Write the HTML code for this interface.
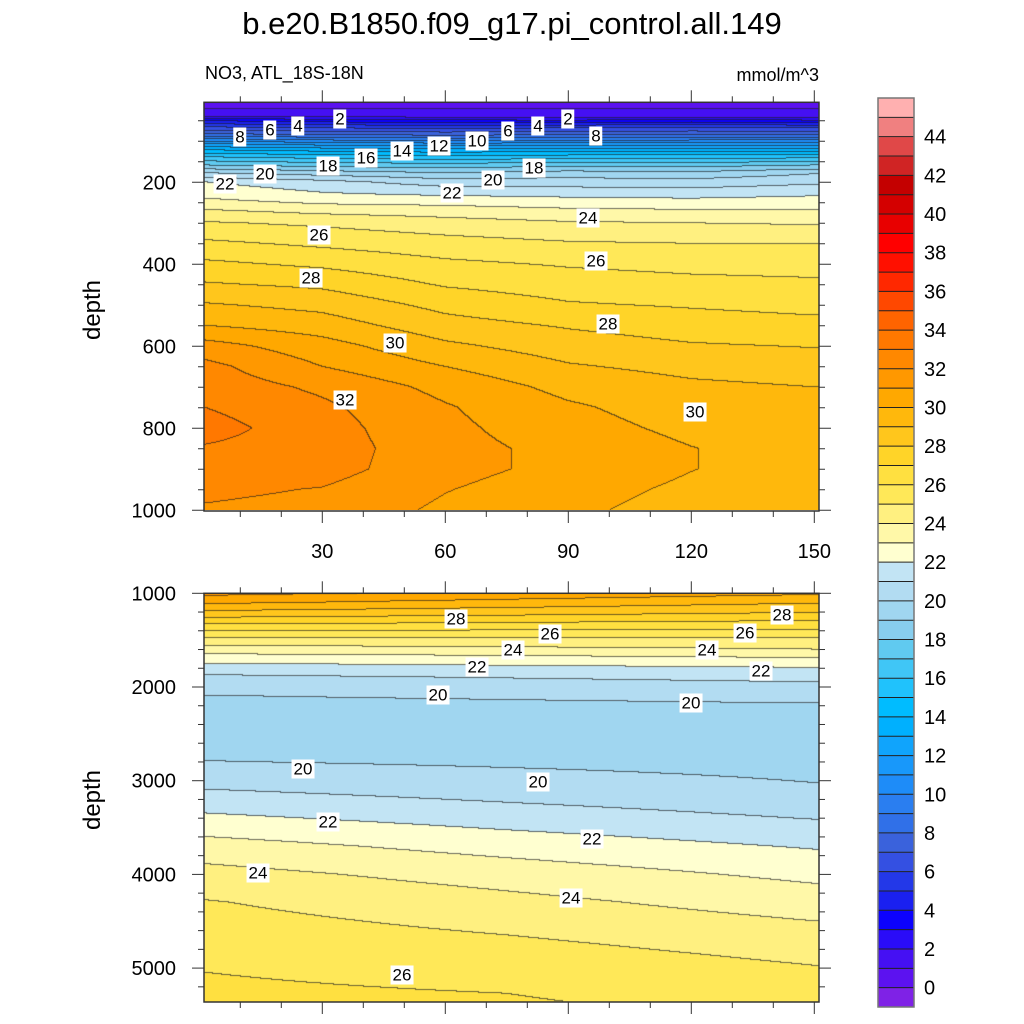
<!DOCTYPE html>
<html><head><meta charset="utf-8">
<style>
html,body{margin:0;padding:0;background:#fff;}
body{width:1024px;height:1024px;position:relative;overflow:hidden;font-family:"Liberation Sans",Arial,sans-serif;color:#000;}
.t{position:absolute;white-space:nowrap;}
canvas{position:absolute;}
.cl{position:absolute;background:#fff;font-size:17px;line-height:17px;padding:1px 2px;transform:translate(-50%,-50%);}
</style></head>
<body>
<div class="t" style="left:0;width:1024px;text-align:center;top:6px;font-size:31px;">b.e20.B1850.f09_g17.pi_control.all.149</div>
<div class="t" style="left:205px;top:63px;font-size:18px;">NO3, ATL_18S-18N</div>
<div class="t" style="right:205px;top:65px;font-size:18px;">mmol/m^3</div>
<div class="t" style="left:93px;top:310px;font-size:24px;transform:translate(-50%,-50%) rotate(-90deg);">depth</div>
<div class="t" style="left:93px;top:800px;font-size:24px;transform:translate(-50%,-50%) rotate(-90deg);">depth</div>
<canvas id="cTop" width="615" height="408" style="left:204px;top:102px;"></canvas>
<canvas id="cBot" width="615" height="409" style="left:204px;top:593px;"></canvas>
<svg id="ov" width="1024" height="1024" style="position:absolute;left:0;top:0;"></svg>
<div id="labels"></div>
<script>
// ---- data ----
const levelColors = ["#7f22e6","#5c12f0","#4510f3","#2a0cf8","#0c02fd","#1a20f0","#2338e8","#3450e2","#3a62dc","#3070e8","#2a7ef0","#1e8cf8","#1898fa","#10a4fc","#00b0fe","#00bcff","#20c2fc","#40c6f6","#60caf0","#88ceee","#a0d6f0","#b2dcf2","#c2e4f4","#ffffd0","#fff8a8","#fff080","#ffe858","#ffe040","#ffd428","#ffc61c","#ffb80c","#ffa800","#ff9800","#ff8800","#ff7800","#ff6400","#ff4800","#ff2800","#ff1000","#ff0000","#e80000","#d40000","#c40000","#d02424","#e04848","#f08080","#ffb0b0"];
const colorbarLabels = [0,2,4,6,8,10,12,14,16,18,20,22,24,26,28,30,32,34,36,38,40,42,44];
const xTicks = [30,60,90,120,150];
const topDepthTicks = [200,400,600,800,1000];
const botDepthTicks = [1000,2000,3000,4000,5000];
const topX = [1.5,30,60,90,120,150];
const topDepth = [0,30,41,51,66,83,95,107,122,139,159,178,200,240,270,300,350,400,450,500,550,600,650,700,750,800,850,900,950,1000];
const topValues = [
[0.5,0.5,0.5,0.5,0.5,0.5],
[1.2,1.2,1.2,1.2,1.2,1.2],
[2,1.9,1.8,1.7,1.8,1.8],
[4,3.6,3.3,3.2,3.5,3.2],
[6,5.7,5.5,5.7,5.8,5.7],
[8,7.8,7.5,7.7,7.8,7.8],
[10,9.5,9.2,9.4,9.5,9.5],
[12,11.5,11.2,11.3,11.4,11.4],
[14,13.6,13.3,13.5,13.5,13.6],
[16,15.6,15.3,15.5,15.5,15.7],
[18,17.6,17.4,17.7,17.6,18],
[20,19.5,19,19.4,19.2,19.9],
[22,21.3,20.5,20.5,20.4,20.8],
[23,22.4,22.3,22.1,22,22.2],
[24.1,23.7,23.5,23.2,23.1,23.1],
[25.1,24.8,24.4,24.1,24,23.9],
[26.2,25.8,25.4,25.1,25,25],
[27.2,26.8,26.2,25.9,25.7,25.6],
[28.1,27.8,26.9,26.5,26.3,26.2],
[29.1,28.7,27.7,27.1,26.9,26.7],
[30,29.5,28.4,27.9,27.5,27.3],
[31.4,30.4,29.2,28.5,28.1,27.95],
[32.3,31,30,29.1,28.7,28.5],
[32.6,31.8,30.7,29.7,29.2,29],
[33,32.2,31.1,30.15,29.5,29.25],
[33.4,32.4,31.25,30.4,29.75,29.45],
[32.9,32.5,31.35,30.7,30.03,29.55],
[32.6,32.4,31.35,30.7,30.03,29.55],
[32.2,31.95,31.05,30.4,29.8,29.4],
[31.9,31.7,30.8,30.2,29.6,29.3]];
const botX = [1.5,75,150];
const botDepth = [1000,1100,1200,1300,1400,1500,1600,1700,1800,1900,2000,2200,2500,2800,3100,3400,3700,4000,4300,4600,5000,5364];
const botValues = [
[31.3,30.75,30.2],[30.2,29.65,29.1],[28.85,28.5,28.1],[27.45,27.2,26.95],[26.05,25.95,25.85],
[24.7,24.75,24.8],[23.55,23.75,24],[22.45,22.65,22.9],[21.55,21.75,21.95],[20.8,21.05,21.3],
[20.25,20.45,20.7],[19.7,19.8,19.9],[19.5,19.5,19.55],[20.02,19.85,19.7],[21.02,20.55,20.1],
[22.2,21.55,20.95],[23.4,22.6,21.9],[24.35,23.55,22.75],[25.06,24.3,23.5],[25.45,24.9,24.25],
[25.97,25.7,25.05],[26.2,26.1,25.6]];
const topLabels = [[2,340,119],[4,298,126],[6,270,130],[8,240,137],[22,225,184],[20,265,174],[18,328,166],[16,366,158],[14,402,151],[12,439,146],[10,477,141],[6,508,131],[4,538,126],[2,568,119],[8,596,136],[18,534,168],[20,493,180],[22,452,193],[24,588,218],[26,319,235],[26,596,261],[28,311,278],[28,608,324],[30,395,343],[32,345,400],[30,695,412]];
const botLabels = [[28,456,619],[26,550,634],[24,513,650],[22,477,667],[20,438,695],[28,782,615],[26,745,633],[24,707,650],[22,761,671],[20,691,703],[20,303,769],[20,538,782],[22,328,822],[22,592,839],[24,258,873],[24,571,898],[26,402,975]];

// ---- axis functions ----
const X0=204, X1=819;
function xScale(v){return 199.3+4.1*v;}
function xInv(p){return (p-199.3)/4.1;}
function topY(d){return 102.3+(d-5)*0.41;}
function topYInv(p){return 5+(p-102.3)/0.41;}
function botY(d){return 593.3+(d-1000)*0.0937;}
function botYInv(p){return 1000+(p-593.3)/0.0937;}

function interp1(arr,v){
  if(v<=arr[0]) return [0,0];
  const n=arr.length;
  if(v>=arr[n-1]) return [n-2,1];
  for(let i=0;i<n-1;i++){ if(v<=arr[i+1]) return [i,(v-arr[i])/(arr[i+1]-arr[i])]; }
  return [n-2,1];
}
function field(xs,ds,vals,x,d){
  const [i,fx]=interp1(xs,x), [j,fd]=interp1(ds,d);
  const a=vals[j][i],b=vals[j][i+1],c=vals[j+1][i],e=vals[j+1][i+1];
  return (a*(1-fx)+b*fx)*(1-fd)+(c*(1-fx)+e*fx)*fd;
}
function hex(h){return [parseInt(h.substr(1,2),16),parseInt(h.substr(3,2),16),parseInt(h.substr(5,2),16)];}
const rgb=levelColors.map(hex);
function drawPanel(id,left,top,xs,ds,vals,yInv){
  const cv=document.getElementById(id),ctx=cv.getContext('2d');
  const W=cv.width,H=cv.height,img=ctx.createImageData(W,H);
  const idx=new Int16Array(W*H);
  for(let py=0;py<H;py++){const d=yInv(top+py+0.5);
    for(let px=0;px<W;px++){const x=xInv(left+px+0.5);
      const v=field(xs,ds,vals,x,d);
      let k=Math.floor(v)+1; if(k<0)k=0; if(k>46)k=46; idx[py*W+px]=k;}}
  for(let p=0;p<W*H;p++){
    const px=p%W,py=(p/W)|0,k=idx[p];let c=rgb[k];
    let line=false;
    if(px<W-1&&idx[p+1]!==k)line=true;
    if(py<H-1&&idx[p+W]!==k)line=true;
    const o=p*4;
    if(line){img.data[o]=c[0]*0.35+20;img.data[o+1]=c[1]*0.35+20;img.data[o+2]=c[2]*0.35+20;}
    else{img.data[o]=c[0];img.data[o+1]=c[1];img.data[o+2]=c[2];}
    img.data[o+3]=255;}
  ctx.putImageData(img,0,0);
}
drawPanel('cTop',204,102,topX,topDepth,topValues,topYInv);
drawPanel('cBot',204,593,botX,botDepth,botValues,botYInv);

// ---- overlay: frames, ticks, colorbar ----
const NS='http://www.w3.org/2000/svg';
const ov=document.getElementById('ov');
function L(x1,y1,x2,y2,w,col,name){const l=document.createElementNS(NS,'line');
  l.setAttribute('x1',x1);l.setAttribute('y1',y1);l.setAttribute('x2',x2);l.setAttribute('y2',y2);
  l.setAttribute('stroke',col||'#000');l.setAttribute('stroke-width',w||1);
  
  
  ov.appendChild(l);}
function T(txt,x,y,anchor,name){const t=document.createElementNS(NS,'text');
  t.setAttribute('x',x);t.setAttribute('y',y);t.setAttribute('text-anchor',anchor);
  t.setAttribute('font-family','Liberation Sans, Arial, sans-serif');t.setAttribute('font-size','20');
  t.textContent=txt;
  
  
  ov.appendChild(t);}
function frame(y0,y1,name){const r=document.createElementNS(NS,'rect');
  r.setAttribute('x',X0);r.setAttribute('y',y0);r.setAttribute('width',X1-X0);r.setAttribute('height',y1-y0);
  r.setAttribute('fill','none');r.setAttribute('stroke','#333');r.setAttribute('stroke-width','1.5');
  
  
  ov.appendChild(r);}
const topY0=102.3,topY1=511,botY0=593.3,botY1=1002;
frame(topY0,topY1,'top-plot-frame');frame(botY0,botY1,'bottom-plot-frame');
for(let v=10;v<=150;v+=10){const x=xScale(v),maj=xTicks.indexOf(v)>=0,len=maj?12:6;
  [[topY0,-1],[topY1,1],[botY0,-1],[botY1,1]].forEach(([y,s])=>L(x,y,x,y+s*len,1,'#333','x-tick'));}
xTicks.forEach(v=>T(String(v),xScale(v),558,'middle','x-tick-label'));
for(let d=50;d<=1000;d+=50){const y=topY(d),maj=topDepthTicks.indexOf(d)>=0,len=maj?12:6;
  L(X0,y,X0-len,y,1,'#333','y-tick');L(X1,y,X1+len,y,1,'#333','y-tick');}
topDepthTicks.forEach(d=>T(String(d),176,topY(d)+7,'end','y-tick-label'));
for(let d=1000;d<=5300;d+=200){const y=botY(d),maj=botDepthTicks.indexOf(d)>=0,len=maj?12:6;
  L(X0,y,X0-len,y,1,'#333','y-tick');L(X1,y,X1+len,y,1,'#333','y-tick');}
botDepthTicks.forEach(d=>T(String(d),176,botY(d)+7,'end','y-tick-label'));
// colorbar
const cbX=878,cbW=36,cbTop=98,cbBot=1007,nb=levelColors.length,bh=(cbBot-cbTop)/nb;
for(let k=0;k<nb;k++){const r=document.createElementNS(NS,'rect');
  const y=cbBot-(k+1)*bh;
  r.setAttribute('x',cbX);r.setAttribute('y',y);r.setAttribute('width',cbW);r.setAttribute('height',bh+0.5);
  r.setAttribute('fill',levelColors[k]);
  
  
  ov.appendChild(r);
  if(k>0)L(cbX,cbBot-k*bh,cbX+cbW,cbBot-k*bh,1,'#222','colorbar-divider');}
{const r=document.createElementNS(NS,'rect');r.setAttribute('x',cbX);r.setAttribute('y',cbTop);r.setAttribute('width',cbW);r.setAttribute('height',cbBot-cbTop);
 r.setAttribute('fill','none');r.setAttribute('stroke','#777');r.setAttribute('stroke-width','1.5');
 
 
 ov.appendChild(r);}
colorbarLabels.forEach(v=>T(String(v),924,cbBot-(v+1)*bh+7,'start','colorbar-label'));
// contour labels
const lab=document.getElementById('labels');
function addLabels(list,name){list.forEach(([v,x,y])=>{const d=document.createElement('div');
  d.className='cl';d.style.left=x+'px';d.style.top=y+'px';d.textContent=v;
  
  
  lab.appendChild(d);});}
addLabels(topLabels,'top-contour-label');addLabels(botLabels,'bottom-contour-label');
</script>
</body></html>
